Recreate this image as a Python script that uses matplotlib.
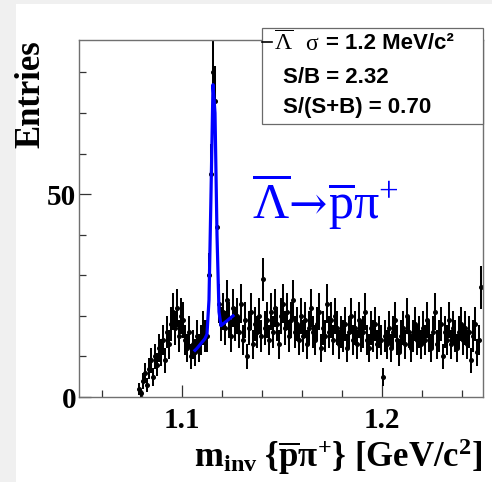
import numpy as np
import matplotlib
matplotlib.use("Agg")
import matplotlib.pyplot as plt
from matplotlib.patches import Rectangle
from matplotlib.lines import Line2D

plt.rcParams['mathtext.fontset'] = 'custom'
plt.rcParams['mathtext.rm'] = 'Liberation Serif'
plt.rcParams['mathtext.it'] = 'Liberation Serif:italic'
plt.rcParams['mathtext.bf'] = 'Liberation Serif:bold'

# Histogramm: 1 MeV Bins von 1.078 bis 1.250 GeV/c^2
bin_lo = 1.078
bin_w = 0.001
counts = [
    2, 1, 4, 6, 3, 7, 9, 5, 10, 8, 12,
    11, 14, 9, 16, 13, 18, 21, 17, 22, 15, 20, 19,
    14, 12, 16, 10, 13, 11, 15, 12, 14, 17, 15,
    15, 30, 55, 80, 73, 42, 23, 18,
    21, 17, 24, 19, 15, 22, 18, 20, 16, 23, 14, 19, 10, 17, 21, 13, 18, 16, 20, 15,
    29, 17, 19, 14, 21, 16, 22, 18, 13, 20, 23, 17, 21, 15, 19, 24, 16, 18, 14, 20,
    15, 19, 13, 17, 22, 16, 14, 18, 21, 12, 17, 15, 23, 16, 19, 14, 20, 17, 13, 16,
    15, 18, 12, 16, 20, 14, 17, 13, 19, 15, 16, 21, 14, 12, 17, 15, 18, 13, 16, 14,
    5,
    15, 13, 17, 12, 16, 19, 14, 11, 15, 17, 13, 20, 16, 12, 15, 18, 14, 16, 13,
    17, 14, 19, 15, 12, 16, 21, 13, 15, 18, 10, 16, 14, 19, 13, 17, 15, 12, 16, 18,
    14, 17, 13, 16, 9, 15, 18, 11, 14, 27,
]

# Fit (Gauss + lineare Untergrund) an den Bin-Mitten
fit_mass = [1.1065, 1.1075, 1.1085, 1.1095, 1.1105, 1.1115, 1.1125, 1.1135,
            1.1145, 1.1155, 1.1165, 1.1175, 1.1185, 1.1195, 1.1205, 1.1215,
            1.1225, 1.1235, 1.1245, 1.1255]
fit_vals = [11.5, 12.0, 12.6, 13.2, 13.8, 14.4, 15.5, 24.0,
            50.0, 77.0, 70.0, 40.0, 21.0, 17.6, 18.0, 18.4,
            18.8, 19.2, 19.6, 20.0]

sigma_txt = "= 1.2 MeV/c\u00b2"
sb_txt = "S/B = 2.32"
ssb_txt = "S/(S+B) = 0.70"

counts = np.array(counts, dtype=float)
mass = bin_lo + bin_w * (np.arange(len(counts)) + 0.5)
err = np.sqrt(counts)

W, H = 492, 482
fig = plt.figure(figsize=(W / 100, H / 100), dpi=100, facecolor='#f0f0f0')

def px(x, y):
    return x / W, 1 - y / H

# weisser Canvas-Bereich
fig.patches.append(Rectangle(px(16, H), (W - 16) / W, (H - 4) / H,
                             transform=fig.transFigure, facecolor='white',
                             edgecolor='none', zorder=-5))

l, t = px(79, 40)
r, b = px(483, 397)
ax = fig.add_axes([l, b, r - l, t - b])

ax.errorbar(mass, counts, yerr=err, fmt='o', color='black', ms=2.6,
            elinewidth=1.45, capsize=0, zorder=2)
ax.plot(fit_mass, fit_vals, color='#0000ff', lw=2.3, zorder=3)

ax.set_xlim(1.0485, 1.2505)
ax.set_ylim(0, 88)

ax.set_xticks([1.1, 1.2])
ax.set_xticks(np.arange(1.06, 1.25, 0.02), minor=True)
ax.set_yticks([0, 50])
ax.set_yticks([10, 20, 30, 40, 60, 70, 80], minor=True)
ax.set_xticklabels(['1.1', '1.2'])
ax.set_yticklabels(['0', '50'])
ax.tick_params(which='both', direction='in', top=False, right=False,
               color='#333333', width=0.9)
ax.tick_params(which='major', length=8.5)
ax.tick_params(which='minor', length=5)
ax.tick_params(axis='x', pad=7)
ax.tick_params(axis='y', pad=2)
for lab in ax.get_xticklabels() + ax.get_yticklabels():
    lab.set_fontfamily('Liberation Serif')
    lab.set_fontweight('bold')
    lab.set_fontsize(21)

for s in ax.spines.values():
    s.set_color('#707070')
    s.set_linewidth(1.0)

ax.set_ylabel('Entries', loc='top', fontfamily='Liberation Serif',
              fontweight='bold', fontsize=25, labelpad=0)
ax.set_xlabel(r'$\mathbf{m_{inv}}\ \mathbf{\{\overline{p}\pi^{+}\}}\ \mathbf{[GeV/c^{2}]}$',
              loc='right', fontsize=25, labelpad=2)

# Zerfallskanal in blau
blue = '#0000ff'
fig.text(*px(252, 218), r'$\overline{\Lambda}$', color=blue, fontsize=36, va='baseline')
fig.text(*px(288, 218), '\u2192', fontfamily='DejaVu Serif', color=blue,
         fontsize=33, va='baseline')
fig.text(*px(328, 218), r'$\overline{\mathrm{p}}\mathrm{\pi}^{+}$', color=blue,
         fontsize=36, va='baseline')

# Legendenkasten
x0, y0 = px(262, 124)
x1, y1 = px(483, 28)
fig.patches.append(Rectangle((x0, y0), x1 - x0, y1 - y0, transform=fig.transFigure,
                             facecolor='white', edgecolor='#6a6a6a', lw=0.9, zorder=5))
lx0, ly = px(262, 42)
lx1, _ = px(272, 42)
fig.lines.append(Line2D([lx0, lx1], [ly, ly], transform=fig.transFigure,
                        color='black', lw=1.2, zorder=6))
fig.text(*px(274, 50), r'$\overline{\Lambda}$', fontsize=17, va='baseline', zorder=6)
fig.text(*px(305, 50), r'$\mathrm{\sigma}$', fontsize=17, va='baseline', zorder=6)
fig.text(*px(326, 49), sigma_txt, fontfamily='Liberation Sans', fontweight='bold',
         fontsize=16, va='baseline', zorder=6)
fig.text(*px(283, 83), sb_txt, fontfamily='Liberation Sans', fontweight='bold',
         fontsize=16, va='baseline', zorder=6)
fig.text(*px(283, 113), ssb_txt, fontfamily='Liberation Sans', fontweight='bold',
         fontsize=16, va='baseline', zorder=6)

fig.savefig('out.png', dpi=100, facecolor=fig.get_facecolor())
